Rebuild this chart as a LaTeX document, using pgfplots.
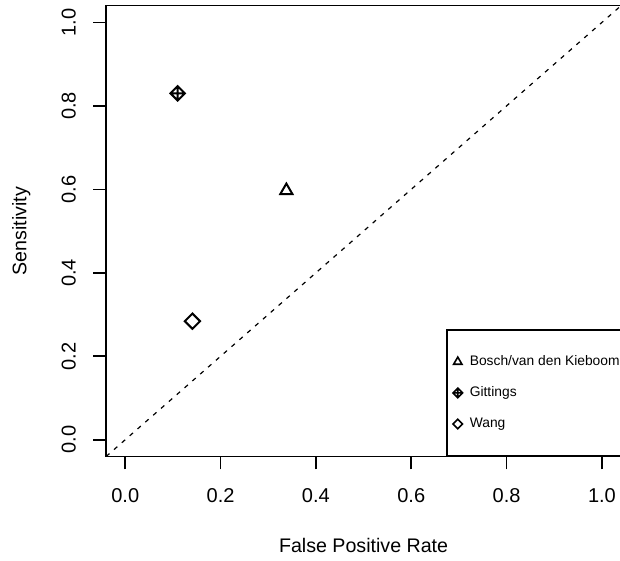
\documentclass[border=0pt]{standalone}
\usepackage{pgfplots}
\pgfplotsset{compat=1.18}
\usepackage{fontspec}
\setmainfont{Liberation Sans}
\usetikzlibrary{calc}
\pgfdeclareplotmark{rdiamond}{%
  \pgfpathmoveto{\pgfqpoint{0pt}{\pgfplotmarksize}}%
  \pgfpathlineto{\pgfqpoint{\pgfplotmarksize}{0pt}}%
  \pgfpathlineto{\pgfqpoint{0pt}{-\pgfplotmarksize}}%
  \pgfpathlineto{\pgfqpoint{-\pgfplotmarksize}{0pt}}%
  \pgfpathclose
  \pgfusepathqstroke}
\pgfdeclareplotmark{rdiamondplus}{%
  \pgfpathmoveto{\pgfqpoint{0pt}{\pgfplotmarksize}}%
  \pgfpathlineto{\pgfqpoint{\pgfplotmarksize}{0pt}}%
  \pgfpathlineto{\pgfqpoint{0pt}{-\pgfplotmarksize}}%
  \pgfpathlineto{\pgfqpoint{-\pgfplotmarksize}{0pt}}%
  \pgfpathclose
  \pgfpathmoveto{\pgfqpoint{0pt}{\pgfplotmarksize}}%
  \pgfpathlineto{\pgfqpoint{0pt}{-\pgfplotmarksize}}%
  \pgfpathmoveto{\pgfqpoint{-\pgfplotmarksize}{0pt}}%
  \pgfpathlineto{\pgfqpoint{\pgfplotmarksize}{0pt}}%
  \pgfusepathqstroke}
\begin{document}
\begin{tikzpicture}
\begin{axis}[
  scale only axis,
  width=257pt, height=225pt,
  xmin=-0.04, xmax=1.04, ymin=-0.04, ymax=1.04,
  xtick={0,0.2,0.4,0.6,0.8,1.0},
  ytick={0,0.2,0.4,0.6,0.8,1.0},
  tick pos=left, tick align=outside,
  major tick length=6.5pt,
  axis line style={line width=0.8pt},
  every tick/.style={black, line width=0.8pt},
  /pgf/number format/.cd, fixed, fixed zerofill, precision=1, assume math mode=true,
  /pgfplots/.cd,
  tick label style={font=\fontsize{10}{12}\selectfont},
  label style={font=\fontsize{9.8}{12}\selectfont},
  yticklabel style={rotate=90, anchor=south, inner sep=0pt},
  yticklabel shift=8.5pt,
  xticklabel style={anchor=north, inner sep=0pt},
  xticklabel shift=9.5pt,
  xlabel={False Positive Rate},
  ylabel={Sensitivity},
  xlabel style={at={(axis description cs:0.5,-0.1978)}, anchor=center},
  ylabel style={at={(axis description cs:-0.165,0.5)}, anchor=center},
  legend cell align=left,
  legend style={at={(rel axis cs:0.66,0)}, anchor=south west, draw=black, line width=0.8pt,
    font=\fontsize{6.9}{8}\selectfont, inner xsep=2pt, inner ysep=12.3pt,
    row sep=8.5pt, column sep=2.5pt,
    nodes={inner sep=0pt, text height=5.5pt, text depth=1.5pt}},
  legend image code/.code={\draw[#1, mark size=2.4pt, line width=0.8pt] plot coordinates {(3pt,0pt)}; \path (0pt,-1pt) (6pt,1pt);},
]
\addplot[black, dashed, dash pattern=on 2.2pt off 3pt, line width=0.6pt, forget plot]
  coordinates {(-0.04,-0.04) (1.04,1.04)};
\addplot[only marks, mark=triangle, mark size=3.5pt, line width=1pt, black]
  coordinates {(0.338,0.597)};
\addlegendentry{Bosch/van den Kieboom\hspace{20pt}}
\addplot[only marks, mark=rdiamondplus, mark size=3.6pt, line width=1pt, black]
  coordinates {(0.110,0.830)};
\addlegendentry{Gittings}
\addplot[only marks, mark=rdiamond, mark size=3.8pt, line width=1pt, black]
  coordinates {(0.141,0.284)};
\addlegendentry{Wang}
\end{axis}
\pgfresetboundingbox
\path[use as bounding box] ($(current axis.south west)+(-53pt,-52pt)$) rectangle ($(current axis.north east)+(-0.5pt,2.85pt)$);
\end{tikzpicture}
\end{document}
